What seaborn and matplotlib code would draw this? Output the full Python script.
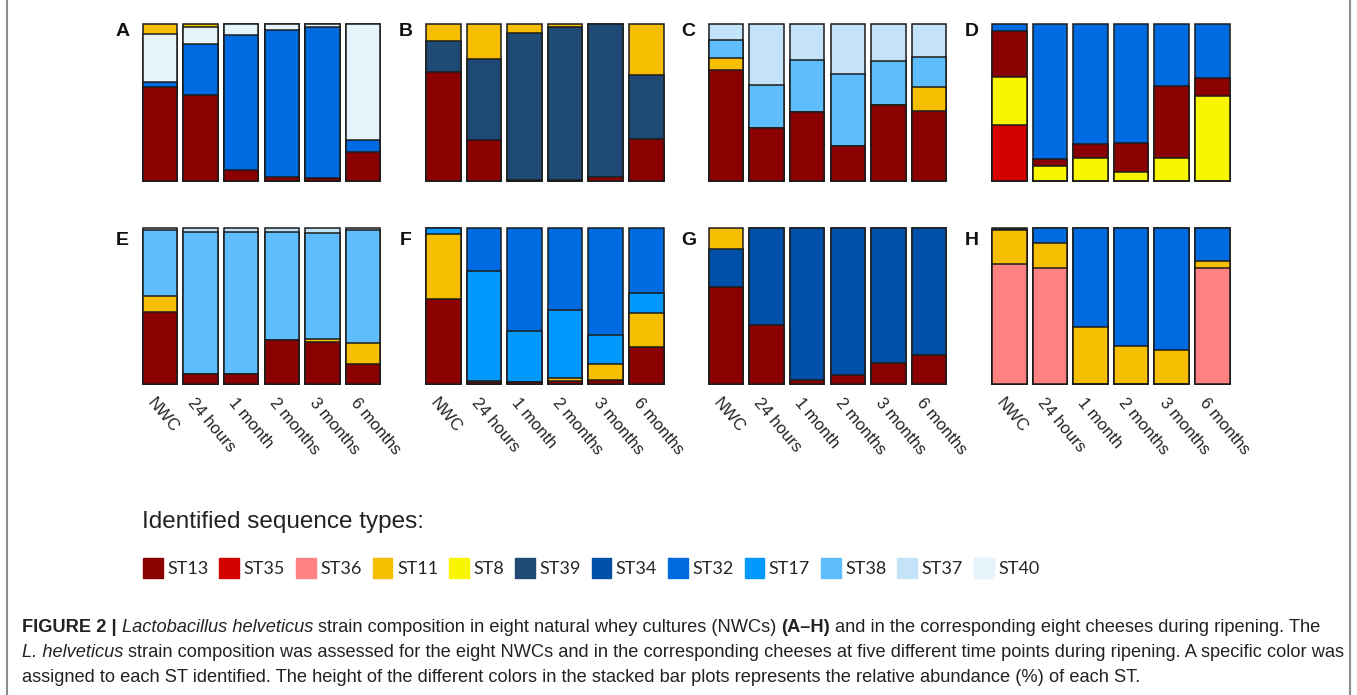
import matplotlib
matplotlib.use("Agg")
import matplotlib.pyplot as plt
import matplotlib.transforms as mtrans
from matplotlib.lines import Line2D
from matplotlib.patches import Patch
import seaborn as sns

# time points on the x axis
TIMES = ["NWC", "24 hours", "1 month", "2 months", "3 months", "6 months"]

# legend order of the sequence types
ST_ORDER = ["ST13", "ST35", "ST36", "ST11", "ST8", "ST39",
            "ST34", "ST32", "ST17", "ST38", "ST37", "ST40"]

PALETTE = {
    "ST13": "#8b0000", "ST35": "#d50000", "ST36": "#ff8282", "ST11": "#f5be00",
    "ST8": "#faf500", "ST39": "#1f4a75", "ST34": "#0050a8", "ST32": "#006ae0",
    "ST17": "#0098fa", "ST38": "#5ebdfd", "ST37": "#c4e3f8", "ST40": "#e5f3fb",
}

# relative abundance (%) per panel, listed from the bottom of the stack up
PANEL_A = {
    "ST13": [60.1, 54.8, 7.2, 2.6, 1.7, 18.3],
    "ST32": [2.8, 32.6, 85.5, 93.8, 96.2, 8.1],
    "ST40": [30.7, 10.9, 7.3, 3.6, 2.1, 73.6],
    "ST11": [6.4, 1.7, 0, 0, 0, 0],
}
PANEL_B = {
    "ST13": [69.3, 26.0, 0.6, 0.6, 2.6, 26.7],
    "ST39": [19.6, 51.6, 93.6, 97.7, 97.4, 40.9],
    "ST11": [11.1, 22.4, 5.8, 1.7, 0, 32.4],
}
PANEL_C = {
    "ST13": [70.6, 33.5, 44.1, 22.4, 48.2, 44.8],
    "ST11": [7.5, 0, 0, 0, 0, 15.1],
    "ST38": [11.5, 27.5, 32.8, 45.8, 28.4, 19.0],
    "ST37": [10.4, 39.0, 23.1, 31.8, 23.4, 21.1],
}
PANEL_D = {
    "ST35": [35.6, 0, 0, 0, 0, 0],
    "ST8": [30.9, 9.4, 14.7, 5.8, 14.7, 54.4],
    "ST13": [28.8, 4.9, 9.0, 18.1, 45.8, 11.1],
    "ST32": [4.7, 85.7, 76.3, 76.1, 39.5, 34.5],
}
PANEL_E = {
    "ST13": [46.0, 6.2, 6.4, 28.5, 27.0, 13.1],
    "ST11": [10.5, 0, 0, 0, 1.9, 13.1],
    "ST38": [42.2, 91.2, 91.0, 69.4, 67.9, 72.4],
    "ST37": [1.3, 2.6, 2.6, 2.1, 3.2, 1.4],
}
PANEL_F = {
    "ST13": [54.6, 1.1, 1.0, 1.7, 2.6, 24.0],
    "ST11": [41.8, 1.1, 0, 2.4, 10.1, 21.6],
    "ST17": [3.6, 70.6, 32.8, 43.7, 18.8, 12.6],
    "ST32": [0, 27.2, 66.2, 52.2, 68.5, 41.8],
}
PANEL_G = {
    "ST13": [62.4, 38.0, 2.6, 6.0, 13.2, 18.4],
    "ST34": [24.1, 62.0, 97.4, 94.0, 86.8, 81.6],
    "ST11": [13.5, 0, 0, 0, 0, 0],
}
PANEL_H = {
    "ST36": [76.9, 74.5, 0, 0, 0, 74.5],
    "ST11": [21.8, 15.8, 36.4, 24.6, 21.6, 4.7],
    "ST32": [0, 9.7, 63.6, 75.4, 78.4, 20.8],
    "ST39": [1.3, 0, 0, 0, 0, 0],
}

PANELS = [("A", PANEL_A), ("B", PANEL_B), ("C", PANEL_C), ("D", PANEL_D),
          ("E", PANEL_E), ("F", PANEL_F), ("G", PANEL_G), ("H", PANEL_H)]

LEGEND_TITLE = "Identified sequence types:"
CAPTION = [
    [("FIGURE 2 |", "bold", "normal"),
     ("Lactobacillus helveticus", "normal", "italic"),
     ("strain composition in eight natural whey cultures (NWCs)", "normal", "normal"),
     ("(A\u2013H)", "bold", "normal"),
     ("and in the corresponding eight cheeses during ripening. The", "normal", "normal")],
    [("L. helveticus", "normal", "italic"),
     ("strain composition was assessed for the eight NWCs and in the corresponding "
      "cheeses at five different time points during ripening. A specific color was",
      "normal", "normal")],
    [("assigned to each ST identified. The height of the different colors in the "
      "stacked bar plots represents the relative abundance (%) of each ST.",
      "normal", "normal")],
]

W, H = 1357, 695
EDGE = "#1c1c1c"
TEXT = "#222222"
SANS = ["Liberation Sans", "DejaVu Sans"]


def fx(px):
    return px / W


def fy(py):
    return 1 - py / H


sns.set_style("white")
plt.rcParams["font.family"] = SANS

fig = plt.figure(figsize=(W / 100, H / 100), dpi=100)

ax_lefts = [139.7, 423.0, 705.7, 989.0]
row_tops = [24.0, 228.3]
row_bottoms = [181.0, 384.0]
ax_w = 243.6

for i, (letter, data) in enumerate(PANELS):
    row, col = divmod(i, 4)
    left, top, bottom = ax_lefts[col], row_tops[row], row_bottoms[row]
    ax = fig.add_axes([fx(left), fy(bottom), ax_w / W, (bottom - top) / H])

    # cumulative heights, drawn tallest first so lower layers sit on top
    running = [0.0] * len(TIMES)
    stacks = []
    for st, vals in data.items():
        running = [r + v for r, v in zip(running, vals)]
        stacks.append((st, running))
    for st, heights in reversed(stacks):
        sns.barplot(x=TIMES, y=heights, order=TIMES, color=PALETTE[st],
                    saturation=1, width=0.85, edgecolor=EDGE, linewidth=1.1,
                    errorbar=None, ax=ax)
    for p in ax.patches:
        p.set_clip_on(False)

    ax.set_xlim(-0.5, 5.5)
    ax.set_ylim(0, 100)
    ax.set_yticks([])
    ax.set_xlabel("")
    ax.set_ylabel("")
    sns.despine(ax=ax, left=True, bottom=True)
    if row == 1:
        ax.set_xticks(range(len(TIMES)))
        ax.set_xticklabels(TIMES, rotation=-50, ha="left", va="top",
                           rotation_mode="anchor", fontsize=12, color=TEXT,
                           family=SANS)
        ax.tick_params(axis="x", length=0, pad=8)
        shift = mtrans.ScaledTranslation(-4 / 100, 0, fig.dpi_scale_trans)
        for lab in ax.get_xticklabels():
            lab.set_transform(lab.get_transform() + shift)
    else:
        ax.set_xticks([])

    fig.text(fx(left - 17), fy(top + (8 if row == 0 else 12)), letter,
             fontsize=14, fontweight="bold", ha="center", va="center", color="#111111")

# legend
fig.text(fx(142), fy(522), LEGEND_TITLE, fontsize=17.5, ha="left", va="center", color=TEXT)
handles = [Patch(facecolor=PALETTE[st], edgecolor=PALETTE[st]) for st in ST_ORDER]
fig.legend(handles, ST_ORDER, ncol=len(ST_ORDER), loc="center left",
           bbox_to_anchor=(fx(143), fy(568)), frameon=False,
           handlelength=1.1, handleheight=1.35, handletextpad=0.25,
           columnspacing=0.6, borderpad=0, borderaxespad=0,
           prop={"family": ["Lato", "DejaVu Sans"], "size": 13})

# caption, fitted to the reference line width
renderer = fig.canvas.get_renderer()


def place_runs(runs, x0, y_base, size):
    x = x0
    made = []
    for k, (s, weight, style) in enumerate(runs):
        if k > 0:
            x += size * 100 / 72 * 0.278
        t = fig.text(fx(x), fy(y_base), s, fontsize=size, fontweight=weight,
                     fontstyle=style, ha="left", va="baseline", color=TEXT)
        x = t.get_window_extent(renderer=renderer).x1
        made.append(t)
    return made, x - x0


cap_x = 22
trial = []
scales = []
for line, right in zip(CAPTION[:2], [1335, 1337]):
    made, width = place_runs(line, cap_x, 0, 10)
    trial += made
    scales.append((right - cap_x) / width)
for t in trial:
    t.remove()
cap_size = 10 * sum(scales) / len(scales)
for line, base in zip(CAPTION, [632, 657, 682]):
    place_runs(line, cap_x, base, cap_size)

# frame lines at the sides
for x in (7, 1350):
    fig.add_artist(Line2D([fx(x), fx(x)], [0, 1], color="#8c8c8c", lw=1.5))

fig.savefig("out.png", dpi=100, facecolor="white")
